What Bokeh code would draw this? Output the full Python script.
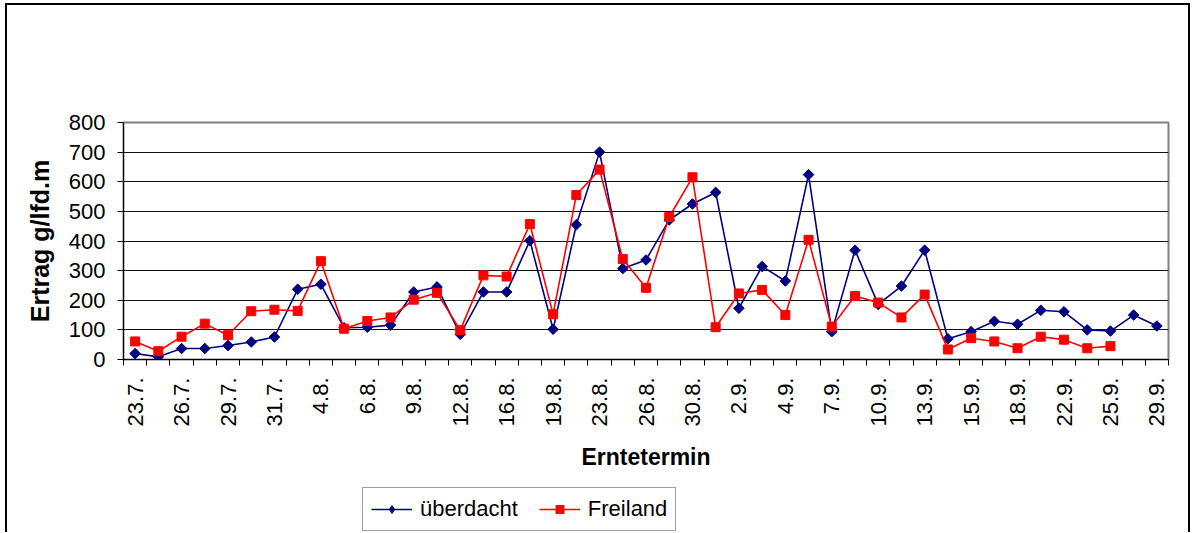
from math import nan, pi
from bokeh.plotting import figure
from bokeh.layouts import column
from bokeh.models import FixedTicker, Legend, LegendItem, Range1d, ColumnDataSource
from bokeh.embed import file_html
from bokeh.resources import INLINE

# Labels shown on every second harvest date
date_labels = ["23.7.", "26.7.", "29.7.", "31.7.", "4.8.", "6.8.", "9.8.", "12.8.",
               "16.8.", "19.8.", "23.8.", "26.8.", "30.8.", "2.9.", "4.9.", "7.9.",
               "10.9.", "13.9.", "15.9.", "18.9.", "22.9.", "25.9.", "29.9."]

ueberdacht = [20, 9, 37, 37, 47, 59, 76, 237, 254, 107, 109, 116, 228, 245, 85,
              228, 228, 401, 102, 455, 700, 307, 336, 471, 525, 564, 173, 314, 265, 624,
              94, 369, 186, 248, 369, 70, 94, 129, 119, 166, 161, 100, 96, 150, 113]

freiland = [61, 28, 77, 121, 82, 163, 168, 164, 332, 104, 130, 142, 202, 225, 99,
            284, 280, 457, 153, 555, 641, 339, 242, 481, 615, 109, 223, 235, 150, 404,
            111, 214, 192, 142, 219, 34, 72, 61, 38, 77, 67, 38, 45, nan, nan]

series_names = ["überdacht", "Freiland"]

n = len(ueberdacht)
x = list(range(n))
src = ColumnDataSource(dict(x=x, u=ueberdacht, f=freiland))

FONT = "Liberation Sans"
BLUE = "#000080"
RED = "#ff0000"
W = 1181

p = figure(width=W, height=474, output_backend="svg", toolbar_location=None,
           x_range=Range1d(-0.5, n - 0.5), y_range=Range1d(0, 800),
           min_border_left=116, min_border_top=117, min_border_right=20, min_border_bottom=120,
           background_fill_color="white", border_fill_color="white")

p.outline_line_color = "#808080"
p.outline_line_width = 2
p.xgrid.visible = False
p.ygrid.grid_line_color = "#101010"
p.ygrid.grid_line_width = 1

# Y axis
p.yaxis.ticker = FixedTicker(ticks=list(range(0, 801, 100)))
p.yaxis.axis_label = "Ertrag g/lfd.m"
p.yaxis.axis_label_text_font = FONT
p.yaxis.axis_label_text_font_style = "bold"
p.yaxis.axis_label_text_font_size = "25px"
p.yaxis.axis_label_text_color = "black"
p.yaxis.axis_label_standoff = 12
p.yaxis.major_label_text_font = FONT
p.yaxis.major_label_text_font_size = "22px"
p.yaxis.major_label_text_color = "black"
p.yaxis.major_label_standoff = 12
p.yaxis.major_tick_out = 6
p.yaxis.major_tick_in = 0
p.yaxis.minor_tick_out = 0
p.yaxis.minor_tick_in = 0
p.yaxis.axis_line_color = "black"
p.yaxis.major_tick_line_color = "black"

# X axis: labels on every second category, tick marks at category boundaries
label_pos = list(range(0, n, 2))
p.xaxis.ticker = FixedTicker(ticks=label_pos, minor_ticks=[i - 0.5 for i in range(n + 1)])
p.xaxis.major_label_overrides = {i: lab for i, lab in zip(label_pos, date_labels)}
p.xaxis.major_label_orientation = pi / 2
p.xaxis.major_label_text_font = FONT
p.xaxis.major_label_text_font_size = "22px"
p.xaxis.major_label_text_color = "black"
p.xaxis.major_label_standoff = 12
p.xaxis.major_tick_out = 0
p.xaxis.major_tick_in = 0
p.xaxis.minor_tick_out = 6
p.xaxis.minor_tick_in = 0
p.xaxis.minor_tick_line_color = "black"
p.xaxis.axis_line_color = "black"
p.xaxis.axis_label = "Erntetermin"
p.xaxis.axis_label_text_font = FONT
p.xaxis.axis_label_text_font_style = "bold"
p.xaxis.axis_label_text_font_size = "23px"
p.xaxis.axis_label_text_color = "black"
p.xaxis.axis_label_standoff = 15

p.line("x", "u", source=src, line_color=BLUE, line_width=1.6)
p.scatter("x", "u", source=src, marker="square", angle=pi / 4, size=7.5,
          fill_color=BLUE, line_color=BLUE)
p.line("x", "f", source=src, line_color=RED, line_width=1.6)
p.scatter("x", "f", source=src, marker="square", size=9,
          fill_color=RED, line_color=RED)

# Legend strip below the chart (same glyph styles; the placeholder points are NaN, so not drawn)
q = figure(width=W, height=53, output_backend="svg", toolbar_location=None,
           x_axis_location=None, y_axis_location=None, min_border=0,
           x_range=Range1d(0, 1), y_range=Range1d(0, 1),
           background_fill_color="white", border_fill_color="white")
q.grid.visible = False
q.outline_line_color = None
ph = ColumnDataSource(dict(x=[nan], y=[nan]))
ql1 = q.line("x", "y", source=ph, line_color=BLUE, line_width=1.6)
qm1 = q.scatter("x", "y", source=ph, marker="diamond", size=12,
                fill_color=BLUE, line_color=BLUE)
ql2 = q.line("x", "y", source=ph, line_color=RED, line_width=1.6)
qm2 = q.scatter("x", "y", source=ph, marker="square", size=9, fill_color=RED, line_color=RED)

legend = Legend(items=[LegendItem(label=series_names[0], renderers=[ql1, qm1]),
                       LegendItem(label=series_names[1], renderers=[ql2, qm2])],
                orientation="horizontal", location=(239, 1),
                glyph_width=41, glyph_height=20, label_standoff=8, spacing=21,
                padding=8, margin=0,
                label_text_font=FONT, label_text_font_size="22px", label_text_color="black",
                border_line_color="#404040", border_line_width=1,
                background_fill_color="white", background_fill_alpha=1)
q.add_layout(legend, "center")

layout = column(p, q, spacing=0)
layout.styles = {"margin-left": "5px", "margin-top": "3px",
                 "border-left": "2px solid #000", "border-top": "2px solid #000",
                 "border-right": "2px solid #000"}

open("out.html", "w").write(file_html(layout, INLINE))
